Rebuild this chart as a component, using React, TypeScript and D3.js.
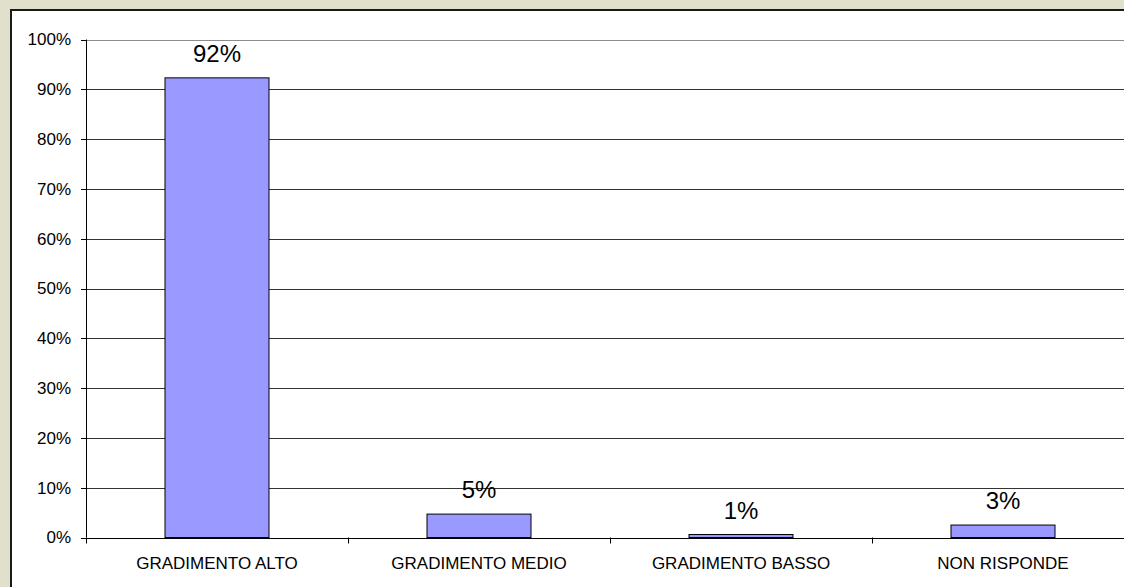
import React from "react";
import * as d3 from "d3";

const categories = ["GRADIMENTO ALTO", "GRADIMENTO MEDIO", "GRADIMENTO BASSO", "NON RISPONDE"];
const values = [92.3, 4.7, 0.6, 2.5];
const valueLabels = ["92%", "5%", "1%", "3%"];
const yTicks = [0, 10, 20, 30, 40, 50, 60, 70, 80, 90, 100];

const W = 1124;
const H = 587;
const FONT = "Arial, 'Liberation Sans', sans-serif";

export default function App() {
  const x = d3.scaleBand<string>().domain(categories).range([86, 1134]).padding(0);
  const y = d3.scaleLinear().domain([0, 100]).range([537.5, 39.5]);
  const barW = x.bandwidth() * 0.397;
  const boundaries = categories.map((c) => x(c) as number);

  return (
    <svg
      width={W}
      height={H}
      style={{ position: "fixed", left: 0, top: 0, display: "block" }}
      fontFamily={FONT}
    >
      <rect x={0} y={0} width={W} height={H} fill="#e1e0cc" />
      <rect x={11} y={10} width={W + 20} height={H + 20} fill="#ffffff" stroke="#1a1a1a" strokeWidth={2} />

      {/* gridlines */}
      {yTicks.filter((t) => t > 0).map((t) => (
        <line
          key={"g" + t}
          x1={86}
          x2={W}
          y1={Math.round(y(t)) + 0.5}
          y2={Math.round(y(t)) + 0.5}
          stroke={t === 100 ? "#8c8c8c" : "#333333"}
          strokeWidth={1}
        />
      ))}

      {/* bars */}
      {categories.map((c, i) => {
        const cx = (x(c) as number) + x.bandwidth() / 2;
        const top = y(values[i]);
        return (
          <g key={c}>
            <rect
              x={cx - barW / 2}
              y={top}
              width={barW}
              height={y(0) - top}
              fill="#9999ff"
              stroke="#000"
              strokeWidth={1}
            />
            <text x={cx} y={top - 16} textAnchor="middle" fontSize={24} fill="#000">
              {valueLabels[i]}
            </text>
            <text x={cx} y={569} textAnchor="middle" fontSize={17} fill="#000">
              {c}
            </text>
          </g>
        );
      })}

      {/* y axis */}
      <line x1={86.5} x2={86.5} y1={y(100)} y2={y(0)} stroke="#000" strokeWidth={1} />
      {yTicks.map((t) => (
        <g key={"t" + t}>
          <line x1={81} x2={86} y1={Math.round(y(t)) + 0.5} y2={Math.round(y(t)) + 0.5} stroke="#000" />
          <text x={71} y={y(t)} dy="0.35em" textAnchor="end" fontSize={17} fill="#000">
            {t + "%"}
          </text>
        </g>
      ))}

      {/* x axis */}
      <line x1={86} x2={W} y1={Math.round(y(0)) + 0.5} y2={Math.round(y(0)) + 0.5} stroke="#000" />
      {boundaries.map((b, i) => (
        <line key={"xb" + i} x1={b + 0.5} x2={b + 0.5} y1={y(0)} y2={y(0) + 6} stroke="#000" />
      ))}
    </svg>
  );
}
